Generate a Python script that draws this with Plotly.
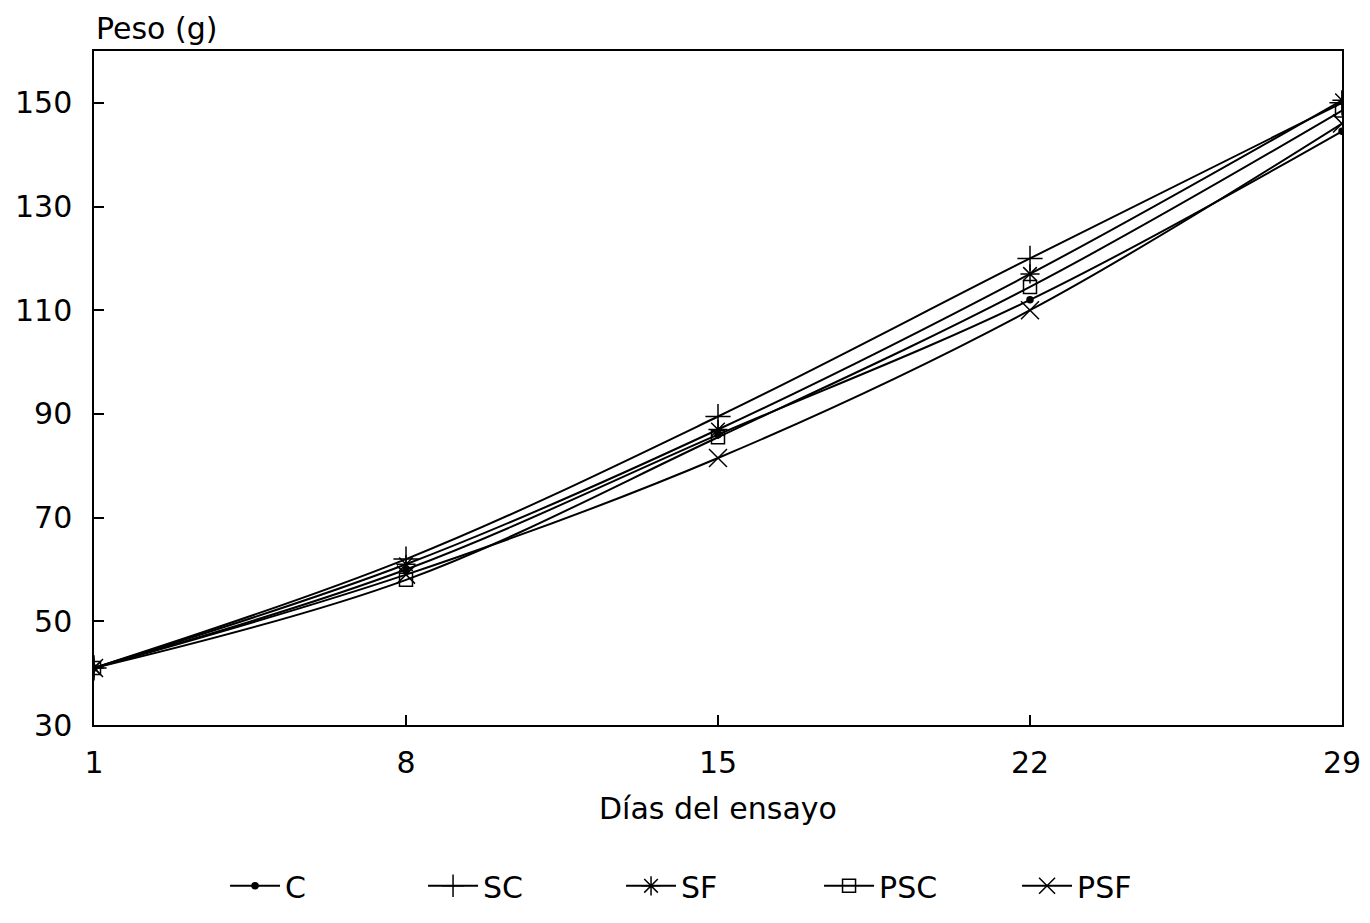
import plotly.graph_objects as go

days = [1, 8, 15, 22, 29]
series_names = ["C", "SC", "SF", "PSC", "PSF"]
C = [41, 60, 86, 112, 144.5]
SC = [41, 62, 89.5, 120, 150]
SF = [41, 61, 87, 117, 150.5]
PSC = [41, 58, 85.5, 114.5, 148.5]
PSF = [41, 59, 81.5, 110, 146]
y_ticks = [30, 50, 70, 90, 110, 130, 150]

data = [C, SC, SF, PSC, PSF]
symbols = ["circle", "cross-thin-open", "asterisk-open", "square-open", "x-thin-open"]
sizes = [6, 18, 16, 13, 18]

fig = go.Figure()
for name, vals, sym, sz in zip(series_names, data, symbols, sizes):
    fig.add_trace(go.Scatter(
        x=days, y=vals, name=name, mode="lines+markers",
        line=dict(color="black", width=2, shape="spline", smoothing=1.0),
        marker=dict(symbol=sym, size=sz, color="black",
                    line=dict(color="black", width=1.5)),
    ))

font = "DejaVu Sans, Verdana, sans-serif"
fig.update_layout(
    width=1370, height=923,
    paper_bgcolor="white", plot_bgcolor="white",
    margin=dict(l=86, r=36, t=43, b=206),
    font=dict(family=font, color="black", size=30),
    showlegend=True,
    legend=dict(orientation="h", x=0.105, xanchor="left", y=-0.2, yanchor="top",
                font=dict(size=30), itemwidth=50, tracegroupgap=0,
                entrywidth=133, entrywidthmode="pixels"),
    xaxis=dict(range=[1, 29], tickvals=days, ticks="inside", ticklen=10,
               tickcolor="black", tickwidth=1.5, ticklabelstandoff=10,
               showline=True, linecolor="black", linewidth=1.5, mirror=True,
               showgrid=False, zeroline=False, automargin=False,
               tickfont=dict(size=30),
               title=dict(text="Días del ensayo", font=dict(size=30), standoff=19)),
    yaxis=dict(range=[30, 160], tickvals=y_ticks, ticks="inside", ticklen=10,
               tickcolor="black", tickwidth=1.5, ticklabelstandoff=14,
               showline=True, linecolor="black", linewidth=1.5, mirror=True,
               showgrid=False, zeroline=False, automargin=False,
               tickfont=dict(size=30)),
    annotations=[dict(text="Peso (g)", xref="paper", yref="paper", x=0, y=1,
                      xanchor="left", yanchor="bottom", yshift=3, showarrow=False,
                      font=dict(size=30))],
)

fig.write_html("out.html")
